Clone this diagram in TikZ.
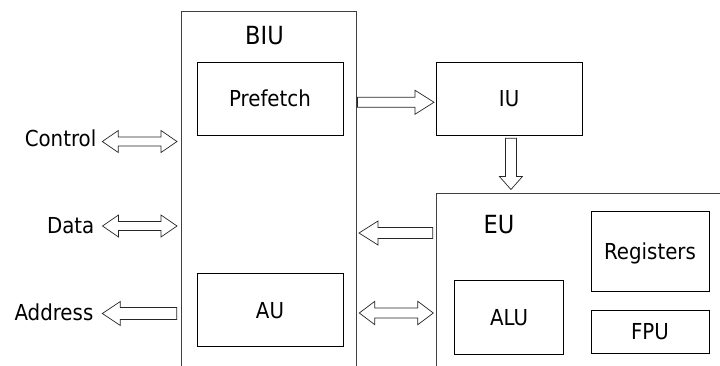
\documentclass[tikz,border=0pt]{standalone}
\usepackage{fontspec}
\setmainfont{DejaVu Sans Condensed}
\usetikzlibrary{calc}

\tikzset{
  box/.style={draw=black, line width=0.9pt, inner sep=0pt, outer sep=0pt,
    anchor=north west, text height=16pt, text depth=0pt,
    font=\fontsize{22}{26}\selectfont},
  unit/.style={draw=black!75, line width=0.9pt, inner sep=0pt, outer sep=0pt,
    anchor=north west},
  title/.style={inner sep=0pt, anchor=base, font=\fontsize{25}{30}\selectfont},
  port/.style={inner sep=0pt, anchor=base east, font=\fontsize{22}{26}\selectfont},
  blockarrow/.style={draw=black!85, line width=0.7pt, fill=white, line join=miter},
}

% hollow block arrows: #1 tail, #2 tip, #3 half shaft, #4 half head, #5 head length
\newcommand\hsingle[5]{%
  \draw[blockarrow] let \p1=#1, \p2=#2, \n1={(\x2>\x1) ? 1 : -1} in
    (\x1,{\y1+#3}) -- ({\x2-(\n1)*#5},{\y1+#3}) -- ({\x2-(\n1)*#5},{\y1+#4})
    -- (\x2,\y1) -- ({\x2-(\n1)*#5},{\y1-#4}) -- ({\x2-(\n1)*#5},{\y1-#3})
    -- (\x1,{\y1-#3}) -- cycle;}
\newcommand\vsingle[5]{%
  \draw[blockarrow] let \p1=#1, \p2=#2, \n1={(\y2>\y1) ? 1 : -1} in
    ({\x1+#3},\y1) -- ({\x1+#3},{\y2-(\n1)*#5}) -- ({\x1+#4},{\y2-(\n1)*#5})
    -- (\x1,\y2) -- ({\x1-#4},{\y2-(\n1)*#5}) -- ({\x1-#3},{\y2-(\n1)*#5})
    -- ({\x1-#3},\y1) -- cycle;}
\newcommand\hdouble[5]{%
  \draw[blockarrow] let \p1=#1, \p2=#2, \n1={(\x2>\x1) ? 1 : -1} in
    (\x1,\y1) -- ({\x1+(\n1)*#5},{\y1+#4}) -- ({\x1+(\n1)*#5},{\y1+#3})
    -- ({\x2-(\n1)*#5},{\y1+#3}) -- ({\x2-(\n1)*#5},{\y1+#4}) -- (\x2,\y1)
    -- ({\x2-(\n1)*#5},{\y1-#4}) -- ({\x2-(\n1)*#5},{\y1-#3})
    -- ({\x1+(\n1)*#5},{\y1-#3}) -- ({\x1+(\n1)*#5},{\y1-#4}) -- cycle;}

\begin{document}
\begin{tikzpicture}[x=1pt, y=-1pt]
\useasboundingbox (0,0) rectangle (720,365);

% bus interface unit
\node[unit, minimum width=175pt, minimum height=380pt] (biu) at (181,11) {};
\node[title] (biu-t) at (264.5,44) {BIU};
\node[box, minimum width=146pt, minimum height=73pt] (prefetch) at (197,62) {Prefetch};
\node[box, minimum width=146pt, minimum height=73pt] (au) at (197,273.5) {AU};

% instruction unit
\node[box, minimum width=146.3pt, minimum height=72.7pt] (iu) at (436,62.3) {IU};

% execution unit
\node[unit, minimum width=300pt, minimum height=200pt] (eu) at (436,193.5) {};
\node[title] (eu-t) at (499,233.3) {EU};
\node[box, minimum width=109pt, minimum height=74pt] (alu) at (454.5,280) {ALU};
\node[box, minimum width=118pt, minimum height=79.3pt] (reg) at (591,211.7) {Registers};
\node[box, minimum width=118pt, minimum height=43.5pt] (fpu) at (591,310) {FPU};

% external bus signals
\node[port] (ctl) at (96.5,146.7) {Control};
\node[port] (dat) at (94.5,233.3) {Data};
\node[port] (adr) at (93.5,320.7) {Address};

\coordinate (ctl-b) at ($(biu.north west)+(-4,130.5)$);
\coordinate (dat-b) at ($(biu.north west)+(-4,215)$);
\coordinate (adr-b) at ($(biu.north west)+(-4.3,302.5)$);
\hdouble{(ctl-b)}{($(ctl.base east)+(5.8,0)$)}{4.5pt}{11pt}{16pt}
\hdouble{(dat-b)}{($(dat.base east)+(8,0)$)}{4.5pt}{11pt}{16pt}
\hsingle{(adr-b)}{($(adr.base east)+(8.8,0)$)}{6pt}{12pt}{18pt}

% internal transfers
\hsingle{($(biu.north east |- iu.west)+(1.5,3.6)$)}{($(iu.west)+(-2,3.6)$)}{5pt}{12pt}{19pt}
\vsingle{($(iu.south)+(1.8,3.3)$)}{($(iu.south |- eu.north)+(1.8,-4)$)}{5.5pt}{11.5pt}{13pt}
\coordinate (eu-out) at ($(eu.north west)+(-3.3,39.5)$);
\hsingle{(eu-out)}{($(biu.north east |- eu-out)+(3,0)$)}{5.5pt}{12pt}{19pt}
\hdouble{($(biu.north east |- au.east)+(3.3,3)$)}{($(eu.west |- au.east)+(-2.7,3)$)}{5pt}{11.7pt}{15.5pt}
\end{tikzpicture}
\end{document}
